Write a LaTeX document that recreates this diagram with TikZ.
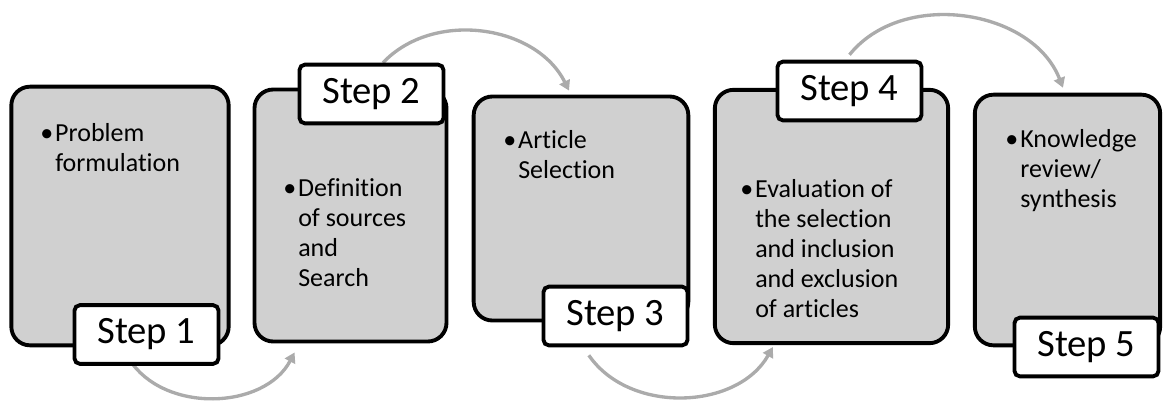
\documentclass[tikz,border=0pt]{standalone}
\usepackage{fontspec}
\setmainfont{Carlito}[Ligatures=NoCommon]
\usepackage{tikz}
\usetikzlibrary{arrows.meta, positioning, backgrounds}
\definecolor{reviewfill}{HTML}{D0D0D0}
\definecolor{reviewarc}{HTML}{ABABAB}

\begin{document}
\begin{tikzpicture}[x=0.75pt, y=-0.75pt,
    stage/.style={draw=black, line width=2.9pt, rounded corners=14pt, fill=reviewfill, inner sep=0pt},
    steplabel/.style={draw=black, line width=2.9pt, rounded corners=4pt, fill=white, minimum width=108pt, minimum height=44pt, inner sep=0pt, font=\fontsize{29}{31}\selectfont},
    bullettext/.style={anchor=base west, align=left, inner sep=0pt, font=\fontsize{19.5}{22.5}\selectfont},
    arr/.style={-{Triangle[length=7.5pt, width=8.5pt]}, line width=2.5pt, reviewarc}
  ]
    \useasboundingbox (0,0) rectangle (1164,404);
    \node[stage, minimum width=163pt, minimum height=194pt] (b1) at (120,216) {};
    \node[stage, minimum width=144pt, minimum height=189pt] (b2) at (350.5,215.5) {};
    \node[stage, minimum width=161pt, minimum height=168pt] (b3) at (581,208.5) {};
    \node[stage, minimum width=175pt, minimum height=190pt] (b4) at (831.5,216.5) {};
    \node[stage, minimum width=139pt, minimum height=188pt] (b5) at (1067.5,220) {};
    % anchored at the baseline of the last line
    \node[bullettext] (t1) at (55,171) {\llap{•\hspace{1.5pt}}Problem\\formulation};
    \node[bullettext] (t2) at (298,286) {\llap{•\hspace{1.5pt}}Definition\\of sources\\and\\Search};
    \node[bullettext] (t3) at (518,178) {\llap{•\hspace{1.5pt}}Article\\Selection};
    \node[bullettext] (t4) at (755,317) {\llap{•\hspace{1.5pt}}Evaluation of\\the selection\\and inclusion\\and exclusion\\of articles};
    \node[bullettext] (t5) at (1020,207) {\llap{•\hspace{1.5pt}}Knowledge\\review/\\synthesis};
    \node[steplabel] (s1) at (146.5,334.5) {Step 1};
    \node[steplabel] (s2) at (371.5,94) {Step 2};
    \node[steplabel] (s3) at (615.5,316) {Step 3};
    \node[steplabel] (s4) at (849.5,91) {Step 4};
    \node[steplabel] (s5) at (1086.5,347) {Step 5};
    \begin{scope}[on background layer]
      \draw[arr] ([xshift=-13pt, yshift=5pt]s1.south) to[bend right=60] ([xshift=31.5pt, yshift=-6.75pt]b2.south west);
      \draw[arr] ([xshift=8.6pt]s2.north) to[bend left=55] ([xshift=-9pt, yshift=3pt]b3.north);
      \draw[arr] ([xshift=-20pt, yshift=-6pt]s3.south) to[bend right=58] ([xshift=-44pt, yshift=-1.5pt]b4.south);
      \draw[arr] ([yshift=3.75pt]s4.north) to[bend left=60] ([xshift=-3.4pt, yshift=3.75pt]b5.north);
    \end{scope}
  \end{tikzpicture}
\end{document}
